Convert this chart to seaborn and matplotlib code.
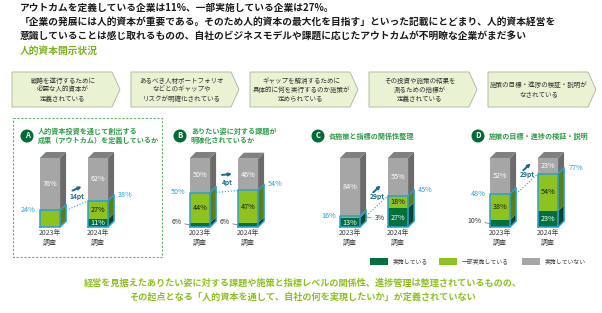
import numpy as np
import pandas as pd
import matplotlib
matplotlib.use('Agg')
import matplotlib.pyplot as plt
import seaborn as sns
from matplotlib.patches import Polygon, Rectangle, Circle

# --- データ ---
title_lines = [
    'アウトカムを定義している企業は11%、一部実施している企業は27%。',
    '「企業の発展には人的資本が重要である。そのため人的資本の最大化を目指す」といった記載にとどまり、人的資本経営を',
    '意識していることは感じ取れるものの、自社のビジネスモデルや課題に応じたアウトカムが不明瞭な企業がまだ多い',
]
subtitle = '人的資本開示状況'
steps = [
    ['戦略を遂行するために', '必要な人的資本が', '定義されている'],
    ['あるべき人材ポートフォリオ', 'などとのギャップや', 'リスクが明確化されている'],
    ['ギャップを解消するために', '具体的に何を実行するのか施策が', '定められている'],
    ['その投資や施策の結果を', '測るための指標が', '定義されている'],
    ['施策の目標・進捗の検証・説明が', 'なされている'],
]
panel_ids = ['A', 'B', 'C', 'D']
panel_titles = [
    ['人的資本投資を通じて創出する', '成果（アウトカム）を定義しているか'],
    ['ありたい姿に対する課題が', '明確化されているか'],
    ['各施策と指標の関係性整理'],
    ['施策の目標・進捗の検証・説明'],
]
years = ['2023年\n調査', '2024年\n調査']
implemented = [[0, 11], [6, 6], [13, 27], [10, 23]]
partial = [[24, 27], [44, 47], [3, 18], [38, 54]]
not_impl = [[76, 62], [50, 46], [84, 55], [52, 23]]
blue_total = [[24, 38], [50, 54], [16, 45], [48, 77]]
legend_labels = ['実施している', '一部実施している', '実施していない']
footer = [
    '経営を見据えたありたい姿に対する課題や施策と指標レベルの関係性、進捗管理は整理されているものの、',
    'その起点となる「人的資本を通して、自社の何を実現したいか」が定義されていない',
]

# --- スタイル ---
DARK, LIGHT, GRAY = '#00703c', '#8dc21f', '#a6a6a6'
DARK_S, LIGHT_S, GRAY_S, GRAY_T = '#00472a', '#5c7f12', '#6b6b6b', '#808080'
BLUE = '#2a9fd8'
ARROW = '#1c6b8a'
BAR_W = 0.42
DX, DY = 0.125, 8.7

sns.set_style('white')
plt.rcParams['font.family'] = ['Noto Sans CJK JP', 'DejaVu Sans']

fig = plt.figure(figsize=(6.02, 3.13), dpi=100)
ov = fig.add_axes([0, 0, 1, 1])
ov.set_xlim(0, 602)
ov.set_ylim(313, 0)
ov.axis('off')
ov.set_zorder(0)

for i, line in enumerate(title_lines):
    ov.text(20, 8 + 14 * i, line, fontsize=7.0, fontweight='bold', va='center', color='#1a1a1a')
ov.text(20, 51, subtitle, fontsize=7.0, fontweight='bold', va='center', color='#7ab51d')

# 矢羽根
for i, lines in enumerate(steps):
    x0 = 12 + 119 * i
    pts = [(x0, 72), (x0 + 100, 72), (x0 + 108, 89.5), (x0 + 100, 107), (x0, 107)]
    ov.add_patch(Polygon(pts, closed=True, fc='#e9f2d3', ec='#a9b59a', lw=0.6))
    n = len(lines)
    for j, t in enumerate(lines):
        ov.text(x0 + 51, 89.5 + (j - (n - 1) / 2) * 9, t, fontsize=4.7,
                ha='center', va='center', color='#333333')

ov.add_patch(Rectangle((13, 118), 149, 139, fill=False, ec='#66b266', ls=(0, (2, 1.5)), lw=0.8))

circle_x = [27, 180, 318, 478]
for k in range(4):
    cx = circle_x[k]
    ov.add_patch(Circle((cx, 136), 6.5, fc='#006b35', ec='none'))
    ov.text(cx, 136, panel_ids[k], fontsize=5.5, fontweight='bold', color='white', ha='center', va='center')
    tl = panel_titles[k]
    for j, t in enumerate(tl):
        ov.text(cx + 11, 136 + (j - (len(tl) - 1) / 2) * 9, t, fontsize=5.1, fontweight='bold',
                color='#2e9e48', va='center')

# --- 棒グラフ ---
for k in range(4):
    left_px = 26 + 150 * k
    ax = fig.add_axes([left_px / 602, 1 - 227 / 313, 96 / 602, 69 / 313])
    ax.set_zorder(2)
    ax.patch.set_alpha(0)
    df = pd.DataFrame({'year': years, 'done': implemented[k], 'part': partial[k], 'none': not_impl[k]})
    df['total'] = df['done'] + df['part'] + df['none']
    df['blue'] = df['done'] + df['part']
    for col, c in [('total', GRAY), ('blue', LIGHT), ('done', DARK)]:
        sns.barplot(data=df, x='year', y=col, color=c, width=BAR_W, saturation=1,
                    errorbar=None, linewidth=0, ax=ax)
    ax.set_xlim(-0.5, 1.5)
    ax.set_ylim(0, 100)
    ax.set_xlabel('')
    ax.set_ylabel('')
    ax.set_yticks([])
    ax.tick_params(axis='x', length=0, pad=1.5, labelsize=5, labelcolor='#404040')
    for lbl in ax.get_xticklabels():
        lbl.set_linespacing(1.3)
    sns.despine(ax=ax, left=True, bottom=True)

    for i, row in df.iterrows():
        l, r = i - BAR_W / 2, i + BAR_W / 2
        d, p, tot = row['done'], row['part'], row['total']
        for y0, y1, c in [(0, d, DARK_S), (d, d + p, LIGHT_S), (d + p, tot, GRAY_S)]:
            if y1 > y0:
                ax.add_patch(Polygon([(r, y0), (r + DX, y0 + DY), (r + DX, y1 + DY), (r, y1)],
                                     closed=True, fc=c, ec='none', clip_on=False))
        ax.add_patch(Polygon([(l, tot), (l + DX, tot + DY), (r + DX, tot + DY), (r, tot)],
                             closed=True, fc=GRAY_T, ec='none', clip_on=False))

        b = d + p
        ax.plot([l, r, r, l, l], [0, 0, b, b, 0], color=BLUE, lw=1.1, clip_on=False)
        ax.plot([r, r + DX, r + DX, r], [b, b + DY, DY, 0], color=BLUE, lw=1.1, clip_on=False)

        # 内部ラベル
        ax.text(i, b + row['none'] / 2, f"{row['none']}%", fontsize=5.2, color='white',
                ha='center', va='center')
        if d > 0 and p >= 8:
            ax.text(i, d + p / 2, f'{p}%', fontsize=5.2, color='#1a1a1a', ha='center', va='center')
        if d >= 11:
            ax.text(i, d / 2, f'{d}%', fontsize=5.2, color='white', ha='center', va='center')
        elif d > 0:
            ax.annotate(f'{d}%', xy=(l, d / 2), xytext=(-6, 2), textcoords='offset points',
                        fontsize=5, color='#333333', ha='right', va='center',
                        arrowprops=dict(arrowstyle='-', color='#666666', lw=0.5,
                                        shrinkA=0, shrinkB=0), annotation_clip=False)
        if 0 < p < 8:
            ax.annotate(f'{p}%', xy=(r + DX, d + p / 2), xytext=(6, -1), textcoords='offset points',
                        fontsize=5, color='#333333', ha='left', va='center',
                        arrowprops=dict(arrowstyle='-', color='#666666', lw=0.5,
                                        shrinkA=0, shrinkB=0), annotation_clip=False)

    # 青い合計ラベル
    b0, b1 = blue_total[k]
    ax.annotate(f'{b0}%', xy=(-BAR_W / 2, b0), xytext=(-3, 0), textcoords='offset points',
                fontsize=5.2, color=BLUE, ha='right', va='center', annotation_clip=False)
    ax.annotate(f'{b1}%', xy=(1 + BAR_W / 2 + DX, b1 + DY), xytext=(3, 0), textcoords='offset points',
                fontsize=5.2, color=BLUE, ha='left', va='center', annotation_clip=False)
    x_a, y_a = BAR_W / 2 + DX, implemented[k][0] + partial[k][0]
    x_b, y_b = 1 - BAR_W / 2, implemented[k][1] + partial[k][1]
    ax.plot([x_a, x_b], [y_a, y_b], color=BLUE, lw=0.8, ls=':', clip_on=False)

    # 増加幅
    fig.canvas.draw()
    pa = ax.transData.transform((x_a, y_a))
    pb = ax.transData.transform((x_b, y_b))
    mid = (pa + pb) / 2
    u = (pb - pa) / np.linalg.norm(pb - pa)
    ov.text(mid[0], 313 - mid[1] - 9, f'{b1 - b0}pt', fontsize=4.8, color=ARROW,
            ha='center', va='center', fontweight='bold')
    ac = np.array([mid[0], 313 - mid[1] - 17])
    ov.annotate('', xy=(ac[0] + 5 * u[0], ac[1] - 5 * u[1]), xytext=(ac[0] - 5 * u[0], ac[1] + 5 * u[1]),
                arrowprops=dict(arrowstyle='-|>', color=ARROW, lw=1.4, mutation_scale=4,
                                shrinkA=0, shrinkB=0))

# 凡例
for x0, c, t in zip([370, 439, 522], [DARK, LIGHT, GRAY], legend_labels):
    ov.add_patch(Rectangle((x0, 258), 18, 7, fc=c, ec='none'))
    ov.text(x0 + 23, 261.5, t, fontsize=4.2, color='#444444', va='center')

for j, t in enumerate(footer):
    ov.text(303, 283 + 14 * j, t, fontsize=6.6, fontweight='bold', color='#8dc21f',
            ha='center', va='center')

fig.savefig('out.png', dpi=100, facecolor='white')
